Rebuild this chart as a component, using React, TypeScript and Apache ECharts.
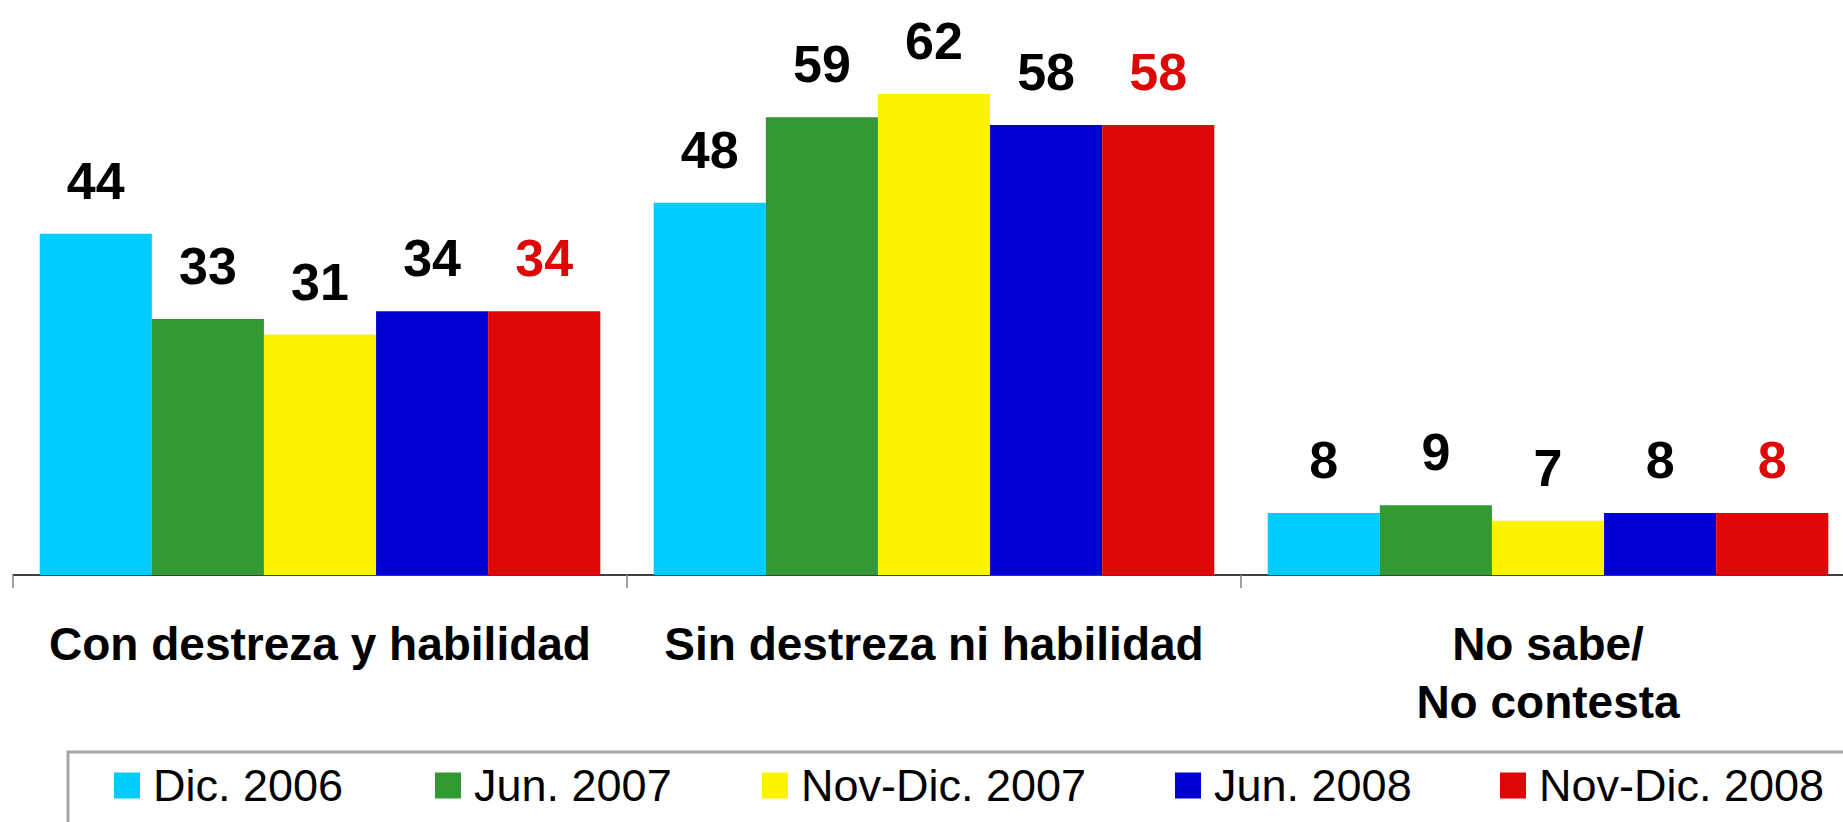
import React, { useEffect, useRef } from "react";
import * as echarts from "echarts";

const categories = ["Con destreza y habilidad", "Sin destreza ni habilidad", "No sabe/\nNo contesta"];
const seriesNames = ["Dic. 2006", "Jun. 2007", "Nov-Dic. 2007", "Jun. 2008", "Nov-Dic. 2008"];
const dic2006 = [44, 48, 8];
const jun2007 = [33, 59, 9];
const novDic2007 = [31, 62, 7];
const jun2008 = [34, 58, 8];
const novDic2008 = [34, 58, 8];
const seriesValues = [dic2006, jun2007, novDic2007, jun2008, novDic2008];
const colors = ["#00ccff", "#339933", "#fbf300", "#0000d2", "#dd0806"];
const labelColors = ["#000000", "#000000", "#000000", "#000000", "#dd0806"];
const legendLefts = [114, 435, 762, 1175, 1500];

const FONT = "'Liberation Sans', Arial, sans-serif";

export default function App() {
  const ref = useRef<HTMLDivElement>(null);
  useEffect(() => {
    if (!ref.current) return;
    const chart = echarts.init(ref.current, undefined, { renderer: "svg" });
    const option: any = {
      animation: false,
      backgroundColor: "#ffffff",
      grid: { left: 13, right: 15, top: 32, bottom: 247, containLabel: false },
      xAxis: {
        type: "category",
        data: categories,
        axisLine: { show: true, lineStyle: { color: "#000000", width: 1.5 } },
        axisTick: { show: true, length: 13, lineStyle: { color: "#808080", width: 1.5 } },
        axisLabel: {
          interval: 0,
          margin: 40,
          fontFamily: FONT,
          fontWeight: "bold",
          fontSize: 46,
          lineHeight: 58,
          color: "#000000",
        },
      },
      yAxis: { type: "value", min: 0, max: 70, show: false },
      legend: seriesNames.map((n, i) => ({
        data: [n],
        left: legendLefts[i],
        top: 763,
        padding: 0,
        itemWidth: 26,
        itemHeight: 26,
        icon: "rect",
        textStyle: {
          fontFamily: FONT,
          fontSize: 45,
          color: "#000000",
          padding: [0, 0, 0, 8],
        },
      })),
      graphic: [
        {
          type: "rect",
          shape: { x: 68, y: 752, width: 2000, height: 300 },
          style: { fill: "none", stroke: "#a6a6a6", lineWidth: 3 },
          silent: true,
        },
      ],
      series: seriesNames.map((n, i) => ({
        name: n,
        type: "bar",
        data: seriesValues[i],
        barGap: "0%",
        barCategoryGap: "8.7%",
        itemStyle: { color: colors[i] },
        label: {
          show: true,
          position: "top",
          distance: 27,
          fontFamily: FONT,
          fontWeight: "bold",
          fontSize: 52,
          lineHeight: 52,
          color: labelColors[i],
        },
      })),
    };
    chart.setOption(option);
    return () => chart.dispose();
  }, []);
  return (
    <div style={{ position: "fixed", left: 0, top: 0, width: 1843, height: 822, overflow: "hidden", background: "#fff" }}>
      <div ref={ref} style={{ width: 1870, height: 822 }} />
    </div>
  );
}
